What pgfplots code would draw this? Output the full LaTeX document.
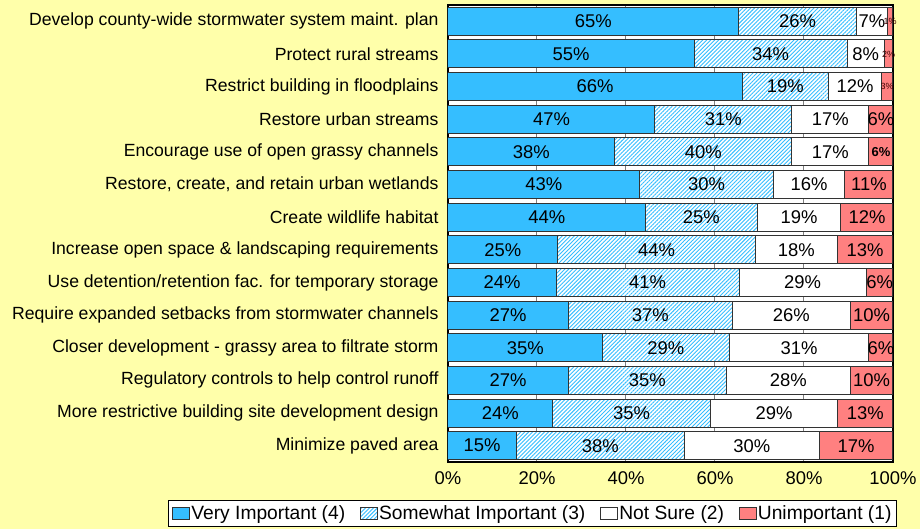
\documentclass[border=0pt]{standalone}
\usepackage{fontspec}
\setmainfont{Liberation Sans}
\usepackage{pgfplots}
\pgfplotsset{compat=1.18}
\usepackage{pgfplotstable}
\usetikzlibrary{patterns.meta}

\definecolor{bgyellow}{RGB}{255,255,170}
\definecolor{vblue}{RGB}{53,190,255}
\definecolor{unred}{RGB}{255,128,128}

% w = measured segment width (% of bar), mid = centre of segment, lab = printed label
\pgfplotstableread{
y w mid lab
0 65.3 32.65 65
1 55.3 27.65 55
2 66.1 33.05 66
3 46.5 23.25 47
4 37.5 18.75 38
5 43.1 21.55 43
6 44.4 22.2 44
7 24.6 12.3 25
8 24.3 12.15 24
9 27.0 13.5 27
10 34.7 17.35 35
11 27.0 13.5 27
12 23.5 11.75 24
13 15.3 7.65 15
}\veryimp

\pgfplotstableread{
y w mid lab
0 26.5 78.55 26
1 34.4 72.5 34
2 19.4 75.8 19
3 30.7 61.85 31
4 39.7 57.35 40
5 30.0 58.1 30
6 25.1 56.95 25
7 44.5 46.85 44
8 41.1 44.85 41
9 36.9 45.45 37
10 28.5 48.95 29
11 35.6 44.8 35
12 35.5 41.25 35
13 37.9 34.25 38
}\somewhat

\pgfplotstableread{
y w mid lab
0 6.9 95.25 7
1 8.3 93.85 8
2 11.9 91.45 12
3 17.4 85.9 17
4 17.4 85.9 17
5 16.1 81.15 16
6 18.8 78.9 19
7 18.4 78.3 18
8 28.6 79.7 29
9 26.5 77.15 26
10 31.4 78.9 31
11 27.8 76.5 28
12 28.6 73.3 29
13 30.2 68.3 30
}\notsure

\pgfplotstableread{
y w mid lab
0 1.3 99.35 1
1 2.0 99.0 2
2 2.6 98.7 3
3 5.4 97.3 6
4 5.4 97.3 6
5 10.8 94.6 11
6 11.7 94.15 12
7 12.5 93.75 13
8 6.0 97.0 6
9 9.6 95.2 10
10 5.4 97.3 6
11 9.6 95.2 10
12 12.4 93.8 13
13 16.6 91.7 17
}\unimp

% labels of the red segments, split by the size they are set in
\pgfplotstableread{
y mid lab
3 97.3 6
5 94.6 11
6 94.15 12
7 93.75 13
8 97.0 6
9 95.2 10
10 97.3 6
11 95.2 10
12 93.8 13
13 91.7 17
}\unimplab
\pgfplotstableread{
y mid lab
0 99.35 1
1 99.0 2
2 98.7 3
}\unimptiny
\pgfplotstableread{
y mid lab
4 97.3 6
}\unimpbold

\pgfplotsset{
  common/.style={
    at={(0,0)}, anchor=south west,
    scale only axis, width=445bp, height=457bp,
    xmin=0, xmax=100, ymin=-0.5, ymax=13.5, y dir=reverse,
    /pgf/number format/assume math mode=true,
  },
  lab/.style={draw=none, mark=none, point meta=explicit,
    nodes near coords={\pgfmathprintnumber{\pgfplotspointmeta}\%},
    every node near coord/.style={anchor=center, inner sep=0pt, text=black,
      font=\fontsize{18.5}{21}\selectfont}},
}

\begin{document}
\begin{tikzpicture}
\useasboundingbox (-448bp,-67bp) rectangle (472bp,462bp);
\fill[bgyellow] (-448bp,-67bp) rectangle (472bp,462bp);
\begin{axis}[
  common,
  xbar stacked, bar width=28bp,
  axis background/.style={fill=white},
  axis line style={line width=2.5bp, black},
  xtick={0,20,...,100},
  xticklabel={\pgfmathprintnumber[fixed,precision=0]{\tick}\%},
  ytick={0,...,13},
  yticklabels={
    Develop county-wide stormwater system maint. plan,
    Protect rural streams,
    Restrict building in floodplains,
    Restore urban streams,
    Encourage use of open grassy channels\ ,
    {Restore, create, and retain urban wetlands},
    Create wildlife habitat,
    Increase open space \& landscaping requirements,
    Use detention/retention fac. for temporary storage,
    Require expanded setbacks from stormwater channels,
    Closer development - grassy area to filtrate storm,
    Regulatory controls to help control runoff,
    More restrictive building site development design\ ,
    Minimize paved area},
  major tick length=0pt,
  xmajorgrids, grid style={draw=gray, line width=1bp},
  xticklabel style={font=\fontsize{18.5}{21}\selectfont, yshift=-6bp},
  yticklabel style={font=\fontsize{17.7}{21}\selectfont, xshift=-6bp},
  legend style={at={(1.009,-0.142)}, anchor=south east, legend columns=4,
    draw=black, line width=1bp, fill=white, font=\fontsize{19.3}{22}\selectfont,
    inner xsep=4bp, inner ysep=3bp,
    nodes={inner xsep=1bp, inner ysep=2bp},
    /tikz/every odd column/.append style={column sep=0bp},
    /tikz/every even column/.append style={column sep=14bp}},
  legend image code/.code={
    \draw[#1, line width=0.9bp] (0bp,-6bp) rectangle (17bp,6bp);},
]
\addplot[draw=black!80, line width=1bp, fill=vblue] table[x=w, y=y] {\veryimp};
\addplot[draw=black!80, line width=1bp, fill=white,
  postaction={pattern={Lines[angle=45,distance=2.8bp,line width=0.9bp]}, pattern color=vblue}]
  table[x=w, y=y] {\somewhat};
\addplot[draw=black!80, line width=1bp, fill=white] table[x=w, y=y] {\notsure};
\addplot[draw=black!80, line width=1bp, fill=unred] table[x=w, y=y] {\unimp};
\legend{Very Important (4), Somewhat Important (3), Not Sure (2), Unimportant (1)}
\end{axis}
\begin{axis}[common, hide axis, clip=false]
\addplot[lab] table[x=mid, y=y, meta=lab] {\veryimp};
\addplot[lab] table[x=mid, y=y, meta=lab] {\somewhat};
\addplot[lab] table[x=mid, y=y, meta=lab] {\notsure};
\addplot[lab] table[x=mid, y=y, meta=lab] {\unimplab};
\addplot[lab, every node near coord/.append style={font=\fontsize{9}{10}\selectfont, text=black!75!red}]
  table[x=mid, y=y, meta=lab] {\unimptiny};
\addplot[lab, every node near coord/.append style={font=\fontsize{13}{15}\selectfont\bfseries}]
  table[x=mid, y=y, meta=lab] {\unimpbold};
\end{axis}
\end{tikzpicture}
\end{document}
